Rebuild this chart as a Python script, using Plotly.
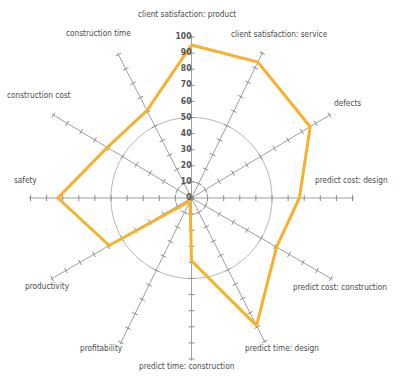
import math
import plotly.graph_objects as go

categories = ["client satisfaction: product", "client satisfaction: service", "defects",
              "predict cost: design", "predict cost: construction", "predict time: design",
              "predict time: construction", "profitability", "productivity", "safety",
              "construction cost", "construction time"]
values = [95, 94, 86, 67, 61, 89, 39, 2, 59, 83, 61, 61]
radial_ticks = [0, 10, 20, 30, 40, 50, 60, 70, 80, 90, 100]
circle_levels = [10, 50]

# spoke directions (degrees clockwise from top) as drawn in the reference
spoke_angles = [0, 26, 59, 90, 120, 153, 180, 206, 240, 270, 301, 333]

W, H = 400, 377
cx, cy = 191.5, 198
ppu = 1.61
rmax = 101
R = rmax * ppu
FONT = "DejaVu Sans Condensed, Liberation Sans Narrow, Roboto"

fig = go.Figure()

for lvl in circle_levels:
    th = list(range(0, 361, 2))
    fig.add_trace(go.Scatterpolar(r=[lvl] * len(th), theta=th, mode="lines",
                                  line=dict(color="#b5b5b5", width=1),
                                  hoverinfo="skip", showlegend=False))

h = 3.0 / ppu
tr, tt = [], []
for a in spoke_angles:
    for v in radial_ticks[1:]:
        d = math.degrees(math.atan(h / v))
        rr = math.hypot(v, h)
        tr += [rr, rr, None]
        tt += [a - d, a + d, None]
fig.add_trace(go.Scatterpolar(r=tr, theta=tt, mode="lines",
                              line=dict(color="#8c8c8c", width=1),
                              hoverinfo="skip", showlegend=False))

fig.add_trace(go.Scatterpolar(r=values + [values[0]], theta=spoke_angles + [spoke_angles[0]],
                              mode="lines", line=dict(color="#F7B12D", width=3),
                              showlegend=False))

fig.add_trace(go.Scatterpolar(r=[0], theta=[0], mode="markers",
                              marker=dict(color="#8a8a8a", size=5),
                              hoverinfo="skip", showlegend=False))

fig.add_trace(go.Scatterpolar(r=radial_ticks, theta=[0] * len(radial_ticks), mode="text",
                              text=[f"<b>{v}</b>" for v in radial_ticks],
                              textposition="middle left",
                              textfont=dict(family=FONT, size=8.5, color="#555555"),
                              hoverinfo="skip", showlegend=False))

# (x, y, anchor)
label_pos = [(187, 14, "center"), (229, 34, "left"), (332, 103, "left"),
             (390, 180, "right"), (389, 287, "right"), (243, 348, "left"),
             (187, 366, "center"), (125, 348, "right"), (23, 286, "left"),
             (12, 180, "left"), (5, 95, "left"), (133, 33, "right")]
for name, (x, y, anc) in zip(categories, label_pos):
    fig.add_annotation(x=x / W, y=1 - y / H, xref="paper", yref="paper", text=name,
                       showarrow=False, xanchor=anc, yanchor="middle",
                       font=dict(family=FONT, size=8.2, color="#4a4a4a"))

fig.update_layout(
    width=W, height=H, margin=dict(l=0, r=0, t=0, b=0),
    paper_bgcolor="white", plot_bgcolor="white",
    polar=dict(
        domain=dict(x=[(cx - R) / W, (cx + R) / W], y=[(H - cy - R) / H, (H - cy + R) / H]),
        bgcolor="white",
        radialaxis=dict(range=[0, rmax], showgrid=False, showline=False,
                        showticklabels=False, ticks=""),
        angularaxis=dict(type="linear", rotation=90, direction="clockwise",
                         tickvals=spoke_angles, showticklabels=False, ticks="",
                         showgrid=True, gridcolor="#a0a0a0", gridwidth=1, showline=False),
    ),
)

fig.write_html("out.html", config={"displayModeBar": False},
               post_script="document.body.style.margin='0';")
